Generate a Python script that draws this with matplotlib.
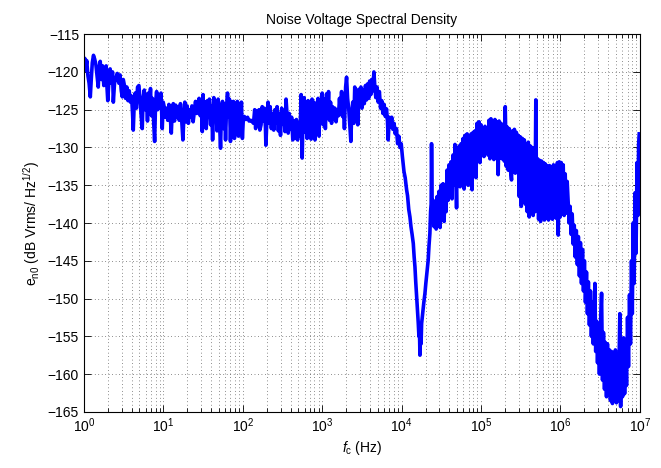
import numpy as np
import matplotlib
matplotlib.use("Agg")
import matplotlib.pyplot as plt
from matplotlib.ticker import FixedLocator, NullFormatter

plt.rcParams['font.family'] = ['Liberation Sans', 'DejaVu Sans']
plt.rcParams['mathtext.fontset'] = 'custom'
plt.rcParams['mathtext.rm'] = 'Liberation Sans'
plt.rcParams['mathtext.it'] = 'Liberation Sans:italic'
plt.rcParams['font.size'] = 10

# frequency positions in decades (log10 Hz), noise level in dB
# 1 Hz - 30 Hz
lf_low = [0.000, 0.010, 0.020, 0.035, 0.050, 0.065, 0.080, 0.092, 0.105, 0.120,
          0.135, 0.150, 0.165, 0.180, 0.190, 0.205, 0.220, 0.235, 0.250, 0.265,
          0.280, 0.290, 0.300, 0.315, 0.330, 0.345, 0.360, 0.370, 0.385, 0.400,
          0.420, 0.440, 0.455, 0.470, 0.483, 0.495, 0.510, 0.525, 0.540, 0.555,
          0.570, 0.585, 0.600, 0.612, 0.621, 0.632, 0.645, 0.660, 0.675, 0.692,
          0.705, 0.718, 0.734, 0.745, 0.760, 0.772, 0.785, 0.800, 0.812, 0.825,
          0.838, 0.850, 0.862, 0.875, 0.890, 0.902, 0.915, 0.928, 0.940, 0.955,
          0.970, 0.986, 0.998, 1.010, 1.025, 1.040, 1.055, 1.070, 1.085, 1.100,
          1.112, 1.125, 1.140, 1.155, 1.170, 1.185, 1.200, 1.215, 1.230, 1.246,
          1.258, 1.270, 1.285, 1.300, 1.315, 1.330, 1.345, 1.360, 1.375, 1.390,
          1.405, 1.420, 1.435, 1.450, 1.465, 1.480, 1.490]
db_low = [-119.5, -118.2, -119.8, -118.5, -120.5, -121.5, -123.3, -121.0, -118.8, -117.8,
          -118.3, -119.0, -120.5, -122.0, -119.6, -118.6, -121.0, -119.2, -121.8, -120.0,
          -119.2, -122.0, -123.8, -121.0, -119.6, -121.5, -120.0, -124.0, -121.5, -120.8,
          -120.2, -121.5, -120.4, -122.5, -123.3, -121.0, -121.8, -123.5, -122.0, -123.8,
          -122.5, -124.0, -123.2, -125.5, -127.7, -124.5, -122.8, -124.8, -122.0, -121.8,
          -123.5, -125.5, -127.5, -123.5, -122.4, -125.0, -123.0, -126.5, -122.8, -124.5,
          -122.2, -125.8, -123.5, -126.0, -129.2, -124.0, -122.6, -125.0, -123.0, -124.8,
          -122.8, -127.5, -124.0, -124.6, -126.0, -124.8, -126.4, -124.3, -125.6, -128.1,
          -125.0, -124.2, -126.5, -124.4, -126.0, -124.6, -126.4, -124.2, -126.2, -129.0,
          -126.0, -124.0, -126.6, -124.5, -126.8, -125.0, -126.0, -124.5, -126.6, -125.2,
          -123.9, -125.5, -124.5, -123.5, -125.8, -123.9, -127.9]

# 30 Hz - 1.2 kHz
lf_mid = [1.500, 1.512, 1.525, 1.540, 1.555, 1.568, 1.580, 1.595, 1.608, 1.620,
          1.635, 1.650, 1.662, 1.675, 1.690, 1.705, 1.720, 1.732, 1.745, 1.758,
          1.770, 1.783, 1.796, 1.808, 1.820, 1.832, 1.845, 1.858, 1.870, 1.882,
          1.895, 1.908, 1.920, 1.932, 1.945, 1.958, 1.970, 1.983, 1.995, 2.008,
          2.020, 2.040, 2.060, 2.080, 2.100, 2.120, 2.135, 2.150, 2.162, 2.175,
          2.190, 2.205, 2.215, 2.230, 2.245, 2.258, 2.270, 2.285, 2.291, 2.305,
          2.318, 2.330, 2.345, 2.360, 2.375, 2.390, 2.405, 2.420, 2.432, 2.448,
          2.460, 2.475, 2.490, 2.505, 2.518, 2.532, 2.545, 2.558, 2.572, 2.585,
          2.600, 2.615, 2.630, 2.645, 2.660, 2.675, 2.690, 2.705, 2.720, 2.735,
          2.748, 2.760, 2.772, 2.785, 2.798, 2.810, 2.822, 2.835, 2.848, 2.860,
          2.872, 2.885, 2.898, 2.910, 2.922, 2.935, 2.948, 2.960, 2.972, 2.985,
          3.000, 3.012, 3.025, 3.040, 3.055, 3.068]
db_mid = [-123.0, -126.5, -124.0, -127.5, -123.8, -126.0, -123.6, -127.0, -124.5, -129.0,
          -123.4, -126.5, -124.0, -127.8, -123.6, -126.0, -130.1, -125.0, -123.9, -127.5,
          -124.2, -129.0, -124.5, -122.8, -126.0, -123.6, -129.2, -124.0, -127.0, -123.9,
          -128.8, -124.5, -126.5, -123.9, -128.5, -124.2, -127.6, -124.0, -128.8, -126.0,
          -125.9, -126.3, -126.0, -126.5, -126.4, -126.6, -126.8, -125.0, -127.5, -125.2,
          -127.0, -125.0, -127.7, -127.0, -124.6, -126.5, -124.8, -127.2, -129.7, -126.0,
          -124.0, -126.8, -124.6, -127.5, -125.5, -127.7, -125.0, -126.8, -124.6, -127.8,
          -125.5, -128.4, -124.8, -126.9, -125.4, -127.9, -123.6, -125.8, -128.1, -125.5,
          -127.6, -126.0, -129.0, -126.5, -128.8, -126.3, -129.0, -126.8, -128.5, -123.0,
          -131.4, -125.0, -123.4, -128.0, -124.0, -128.8, -123.8, -127.5, -124.2, -128.9,
          -123.6, -127.0, -124.0, -129.0, -124.5, -127.0, -123.5, -128.5, -124.0, -126.5,
          -122.8, -127.0, -123.6, -127.5, -122.9, -125.5]

# 1.2 kHz - 25 kHz: peak near 4.5 kHz and notch near 17 kHz
lf_notch = [3.080, 3.092, 3.105, 3.118, 3.130, 3.145, 3.160, 3.175, 3.190, 3.205,
            3.218, 3.230, 3.244, 3.256, 3.268, 3.280, 3.295, 3.307, 3.320, 3.335,
            3.348, 3.361, 3.372, 3.385, 3.398, 3.410, 3.422, 3.435, 3.448, 3.460,
            3.475, 3.488, 3.500, 3.515, 3.530, 3.545, 3.558, 3.570, 3.585, 3.598,
            3.612, 3.625, 3.638, 3.651, 3.662, 3.675, 3.690, 3.705, 3.720, 3.735,
            3.750, 3.765, 3.780, 3.795, 3.810, 3.822, 3.831, 3.845, 3.860, 3.875,
            3.890, 3.905, 3.920, 3.935, 3.950, 3.965, 3.980, 3.995, 4.010, 4.030,
            4.045, 4.063, 4.075, 4.090, 4.105, 4.118, 4.132, 4.147, 4.158, 4.168,
            4.178, 4.189, 4.200, 4.210, 4.218, 4.224, 4.231, 4.238, 4.245, 4.252,
            4.265, 4.280, 4.294, 4.305, 4.320, 4.335, 4.345, 4.356, 4.365, 4.372,
            4.377, 4.385, 4.398]
db_notch = [-122.6, -126.4, -124.0, -126.8, -124.6, -126.2, -124.8, -126.6, -125.0, -125.8,
            -123.5, -125.5, -122.6, -125.9, -123.8, -127.5, -122.0, -120.7, -123.5, -125.0,
            -127.0, -129.2, -125.5, -124.0, -126.8, -122.0, -124.5, -122.5, -127.0, -122.3,
            -124.5, -122.0, -124.8, -122.4, -124.2, -121.8, -123.7, -121.6, -123.5, -121.2,
            -123.0, -121.0, -122.5, -120.0, -121.8, -123.4, -122.0, -124.0, -122.6, -124.8,
            -123.8, -125.5, -124.3, -125.9, -124.9, -126.5, -129.0, -126.0, -127.3, -126.0,
            -127.6, -126.8, -128.2, -127.5, -129.5, -128.5, -130.0, -129.5, -131.2, -133.2,
            -134.0, -135.6, -136.4, -138.2, -139.2, -140.5, -141.5, -142.7, -144.5, -145.8,
            -147.8, -149.7, -151.5, -153.3, -155.0, -153.8, -157.5, -155.0, -156.0, -153.3,
            -152.0, -150.5, -149.3, -148.0, -146.5, -144.9, -143.0, -141.4, -138.5, -137.5,
            -129.5, -138.0, -137.0]

# 25 kHz - 1.2 MHz: broad noisy hump
lf_hump = [4.410, 4.422, 4.435, 4.447, 4.460, 4.472, 4.485, 4.497, 4.510, 4.522,
           4.535, 4.547, 4.560, 4.572, 4.585, 4.597, 4.610, 4.622, 4.635, 4.647,
           4.660, 4.672, 4.685, 4.692, 4.700, 4.712, 4.725, 4.737, 4.750, 4.762,
           4.775, 4.787, 4.800, 4.812, 4.825, 4.837, 4.850, 4.862, 4.875, 4.887,
           4.900, 4.912, 4.925, 4.937, 4.950, 4.962, 4.975, 4.987, 5.000, 5.012,
           5.025, 5.037, 5.050, 5.062, 5.075, 5.087, 5.100, 5.112, 5.125, 5.137,
           5.150, 5.162, 5.175, 5.187, 5.200, 5.216, 5.228, 5.240, 5.252, 5.265,
           5.280, 5.292, 5.305, 5.318, 5.330, 5.342, 5.355, 5.367, 5.384, 5.396,
           5.408, 5.420, 5.432, 5.445, 5.457, 5.470, 5.482, 5.495, 5.507, 5.520,
           5.532, 5.545, 5.557, 5.570, 5.582, 5.595, 5.607, 5.620, 5.632, 5.645,
           5.657, 5.670, 5.680, 5.690, 5.700, 5.712, 5.725, 5.737, 5.750, 5.762,
           5.775, 5.787, 5.800, 5.812, 5.825, 5.837, 5.850, 5.862, 5.875, 5.887,
           5.900, 5.912, 5.925, 5.937, 5.950, 5.962, 5.972, 5.985, 5.997, 6.010,
           6.022, 6.035, 6.047, 6.060, 6.072, 6.085]
db_hump = [-140.5, -137.2, -140.8, -136.5, -139.8, -135.8, -140.6, -135.0, -139.0, -134.8,
           -139.8, -135.5, -138.5, -133.0, -137.0, -132.3, -136.2, -131.9, -136.8, -131.0,
           -135.0, -129.6, -134.5, -138.0, -130.2, -134.8, -129.8, -135.2, -129.5, -134.0,
           -128.8, -135.5, -128.4, -133.8, -128.2, -135.0, -128.6, -133.0, -128.2, -135.6,
           -128.0, -132.5, -127.8, -134.0, -126.8, -131.5, -126.6, -132.0, -127.0, -130.8,
           -127.4, -131.2, -127.2, -130.5, -127.5, -131.0, -126.4, -131.5, -126.2, -130.8,
           -126.5, -131.6, -126.3, -131.0, -126.6, -133.6, -126.5, -131.4, -126.8, -131.5,
           -127.0, -131.8, -124.6, -132.5, -127.3, -133.0, -127.5, -132.6, -134.3, -127.8,
           -133.2, -127.6, -133.4, -128.0, -132.8, -128.4, -136.5, -128.6, -137.8, -128.8,
           -136.0, -129.0, -137.5, -129.5, -138.5, -129.3, -139.2, -129.8, -138.0, -130.0,
           -139.0, -130.5, -138.5, -123.7, -137.8, -131.5, -139.5, -131.7, -139.8, -131.8,
           -138.6, -132.0, -139.6, -132.2, -139.0, -132.5, -139.6, -132.4, -138.8, -132.6,
           -139.5, -132.3, -139.0, -132.5, -139.4, -132.0, -141.6, -131.9, -139.2, -132.0,
           -138.8, -132.3, -139.0, -133.5, -138.7, -134.5]

# 1.2 MHz - 10 MHz: roll-off, floor and final rise
lf_high = [6.097, 6.110, 6.122, 6.135, 6.148, 6.161, 6.174, 6.187, 6.200, 6.213,
           6.226, 6.239, 6.252, 6.265, 6.278, 6.290, 6.302, 6.315, 6.328, 6.340,
           6.352, 6.365, 6.378, 6.390, 6.402, 6.414, 6.424, 6.434, 6.444, 6.455,
           6.467, 6.479, 6.491, 6.503, 6.518, 6.530, 6.542, 6.555, 6.565, 6.580,
           6.592, 6.605, 6.617, 6.630, 6.642, 6.655, 6.667, 6.680, 6.692, 6.705,
           6.718, 6.730, 6.748, 6.758, 6.770, 6.782, 6.795, 6.808, 6.820, 6.832,
           6.845, 6.857, 6.870, 6.882, 6.895, 6.905, 6.915, 6.928, 6.940, 6.952,
           6.965, 6.975, 6.985, 6.992]
db_high = [-137.0, -140.0, -137.8, -141.5, -138.8, -142.8, -140.3, -144.5, -141.0, -145.5,
           -141.8, -147.0, -142.6, -148.0, -143.5, -149.0, -145.0, -150.5, -146.5, -152.0,
           -147.8, -153.5, -149.0, -155.0, -150.5, -156.0, -152.5, -148.0, -157.0, -153.0,
           -158.5, -153.5, -160.0, -153.8, -149.3, -160.8, -154.5, -162.0, -155.8, -163.0,
           -156.0, -162.5, -156.8, -163.5, -157.0, -163.9, -157.2, -163.0, -156.8, -163.8,
           -157.5, -163.5, -152.0, -164.3, -156.0, -163.0, -155.2, -162.6, -155.5, -161.5,
           -152.5, -159.0, -149.5, -156.0, -145.0, -152.0, -140.0, -148.0, -136.0, -144.0,
           -132.0, -139.0, -129.5, -128.2]

decade_ticks = [1, 1e1, 1e2, 1e3, 1e4, 1e5, 1e6, 1e7]
db_ticks = [-165, -160, -155, -150, -145, -140, -135, -130, -125, -120, -115]

log_freq = np.array(lf_low + lf_mid + lf_notch + lf_hump + lf_high)
level_db = np.array(db_low + db_mid + db_notch + db_hump + db_high)
freq_hz = 10 ** log_freq

fig = plt.figure(figsize=(6.61, 4.68), dpi=100)
ax = fig.add_axes([0.127, 0.12, 0.841, 0.807])

ax.plot(freq_hz, level_db, color='#0000ff', lw=2.6)

ax.set_xscale('log')
ax.set_xlim(1, 1e7)
ax.set_ylim(-165, -115)
ax.set_yticks(db_ticks)
ax.xaxis.set_major_locator(FixedLocator(decade_ticks))
minor = [m * d for d in decade_ticks[:-1] for m in range(2, 10)]
ax.xaxis.set_minor_locator(FixedLocator(minor))
ax.xaxis.set_minor_formatter(NullFormatter())

ax.tick_params(which='both', direction='in', top=True, right=True, labelsize=10)
ax.tick_params(which='major', length=5, width=0.6)
ax.tick_params(which='minor', length=3, width=0.6)

ax.grid(True, which='major', linestyle=(0, (1, 4)), color='0.15', lw=0.5)
ax.grid(True, which='minor', axis='x', linestyle=(0, (1, 4)), color='0.15', lw=0.5)
for s in ax.spines.values():
    s.set_linewidth(0.8)

ax.set_title('Noise Voltage Spectral Density', fontsize=10, pad=7)
ax.set_xlabel(r'$f_{\mathregular{c}}$ (Hz)', fontsize=10, labelpad=3)
ax.set_ylabel(r'e$_{\mathregular{n0}}$ (dB Vrms/ Hz$^{\mathregular{1/2}}$)', fontsize=10, labelpad=4)

fig.savefig('out.png', dpi=100)
